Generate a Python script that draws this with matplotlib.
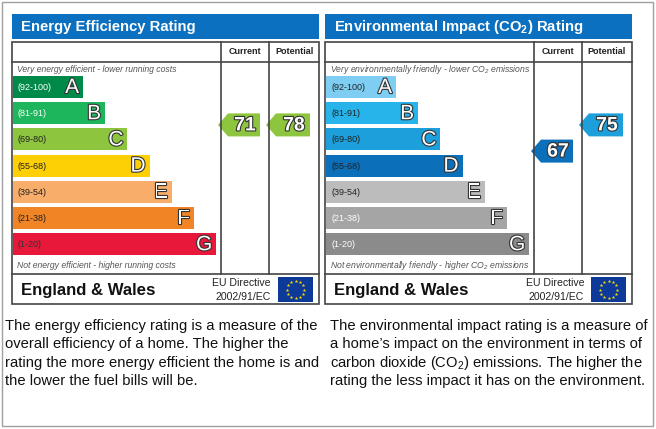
import matplotlib.pyplot as plt
from matplotlib.patches import Rectangle, Polygon
import matplotlib.patheffects as pe
import numpy as np

plt.rcParams['font.family'] = ['Liberation Sans', 'DejaVu Sans']
plt.rcParams['mathtext.fontset'] = 'custom'
plt.rcParams['mathtext.rm'] = 'Liberation Sans'
plt.rcParams['mathtext.it'] = 'Liberation Sans:italic'
plt.rcParams['mathtext.bf'] = 'Liberation Sans:bold'

# rating bands
bands = ['A', 'B', 'C', 'D', 'E', 'F', 'G']
ranges = ['(92-100)', '(81-91)', '(69-80)', '(55-68)', '(39-54)', '(21-38)', '(1-20)']
band_min = [92, 81, 69, 55, 39, 21, 1]

ee_colors = ['#008a4a', '#1db65c', '#8dc53f', '#fdcf05', '#f9ad6a', '#f18424', '#e8183b']
ei_colors = ['#7ecdf2', '#27b4ea', '#1c9fdb', '#0c6fba', '#bcbcbc', '#a5a5a5', '#8b8b8b']
ee_range_txt = ['white', 'white', '#222222', '#222222', '#222222', '#222222', '#333333']
ei_range_txt = ['#222222', '#222222', '#222222', '#222222', '#222222', 'white', 'white']

ee_current, ee_potential = 71, 78
ei_current, ei_potential = 67, 75

titles = ['Energy Efficiency Rating', r'Environmental Impact (CO$_\mathbf{2}$) Rating']
top_notes = ['Very energy efficient - lower running costs',
             r'Very environmentally friendly - lower CO$_\mathregular{2}$ emissions']
bottom_notes = ['Not energy efficient - higher running costs',
                r'Not environmentally friendly - higher CO$_\mathregular{2}$ emissions']
paragraphs = [
    ['The energy efficiency rating is a measure of the',
     'overall efficiency of a home. The higher the',
     'rating the more energy efficient the home is and',
     'the lower the fuel bills will be.'],
    ['The environmental impact rating is a measure of',
     'a home\u2019s impact on the environment in terms of',
     r'carbon dioxide (CO$_\mathregular{2}$) emissions. The higher the',
     'rating the less impact it has on the environment.'],
]


def band_index(value):
    for i, lo in enumerate(band_min):
        if value >= lo:
            return i
    return len(bands) - 1


fig = plt.figure(figsize=(6.56, 4.29), dpi=100)
ax = fig.add_axes([0, 0, 1, 1])
ax.set_xlim(0, 656)
ax.set_ylim(429, 0)
ax.axis('off')

# outer border
ax.add_patch(Rectangle((2, 2), 651, 424, fill=False, ec='#a0a0a0', lw=1))

outline = [pe.withStroke(linewidth=1.6, foreground='#333333')]
line_c = '#444444'


def draw_panel(x0, title, colors, range_txt, current, potential, top_note, bottom_note):
    w = 307
    c1, c2 = x0 + 209, x0 + 257
    # header
    ax.add_patch(Rectangle((x0, 14), w, 25, color='#0b70c0', lw=0))
    ax.text(x0 + 9, 27, title, color='white', fontsize=10.7, fontweight='bold', va='center')
    # frame
    ax.add_patch(Rectangle((x0, 42), w, 262, fill=False, ec=line_c, lw=1.2))
    ax.plot([x0, x0 + w], [62, 62], color=line_c, lw=1.2)
    ax.plot([x0, x0 + w], [274, 274], color=line_c, lw=1.2)
    ax.plot([c1, c1], [42, 274], color=line_c, lw=1.2)
    ax.plot([c2, c2], [42, 274], color=line_c, lw=1.2)
    ax.text((c1 + c2) / 2, 52, 'Current', fontsize=6.5, fontweight='bold', ha='center', va='center', color='#222222')
    ax.text((c2 + x0 + w) / 2, 52, 'Potential', fontsize=6.5, fontweight='bold', ha='center', va='center', color='#222222')
    ax.text(x0 + 5, 69.5, top_note, fontsize=6.2, style='italic', color='#555555', va='center')
    ax.text(x0 + 5, 266, bottom_note, fontsize=6.2, style='italic', color='#555555', va='center')

    # bands
    for i, (b, r) in enumerate(zip(bands, ranges)):
        top = 76 + i * 26.2
        bw = 70 + i * 22.2
        ax.add_patch(Rectangle((x0 + 1, top), bw, 22, color=colors[i], lw=0))
        ax.text(x0 + 6, top + 11.5, r, fontsize=6.5, color=range_txt[i], va='center')
        ax.text(x0 + 1 + bw - 4, top + 11.5, b, fontsize=15, color='white', ha='right', va='center',
                path_effects=outline)

    # rating arrows
    for val, cl, cr in [(current, c1, c2), (potential, c2, x0 + w)]:
        i = band_index(val)
        yc = 76 + i * 26.2 + 11 - 14.5
        tip = cl - 3
        right = cr - 9
        h = 11.5
        poly = Polygon([(tip, yc), (tip + 10, yc - h), (right, yc - h), (right, yc + h), (tip + 10, yc + h)],
                       closed=True, color=colors[i], lw=0)
        ax.add_patch(poly)
        ax.text((tip + 10 + right) / 2 + 1, yc + 1, str(val), fontsize=14, fontweight='bold', color='white',
                ha='center', va='center', path_effects=outline)

    # footer
    ax.text(x0 + 9, 290, 'England & Wales', fontsize=12.1, fontweight='bold', va='center', color='#111111')
    ax.text(c2 + 2, 283, 'EU Directive', fontsize=7.6, ha='right', va='center', color='#222222')
    ax.text(c2 + 2, 296.5, '2002/91/EC', fontsize=7.6, ha='right', va='center', color='#222222')
    fx0, fx1, fy0, fy1 = x0 + 266, x0 + 301, 277, 302
    ax.add_patch(Rectangle((fx0, fy0), fx1 - fx0, fy1 - fy0, color='#0d3a99', lw=0))
    ang = np.linspace(0, 2 * np.pi, 13)[:-1]
    ax.scatter((fx0 + fx1) / 2 + 8.5 * np.cos(ang), (fy0 + fy1) / 2 + 8.5 * np.sin(ang),
               marker='*', s=7, color='#ffdd00', lw=0)


draw_panel(12, titles[0], ee_colors, ee_range_txt, ee_current, ee_potential, top_notes[0], bottom_notes[0])
draw_panel(325, titles[1], ei_colors, ei_range_txt, ei_current, ei_potential, top_notes[1], bottom_notes[1])

# explanatory text
for x, lines in zip([5, 330], paragraphs):
    for k, line in enumerate(lines):
        ax.text(x, 326 + k * 18.3, line, fontsize=10.6, color='#111111', va='center')

fig.savefig('out.png', dpi=100)
